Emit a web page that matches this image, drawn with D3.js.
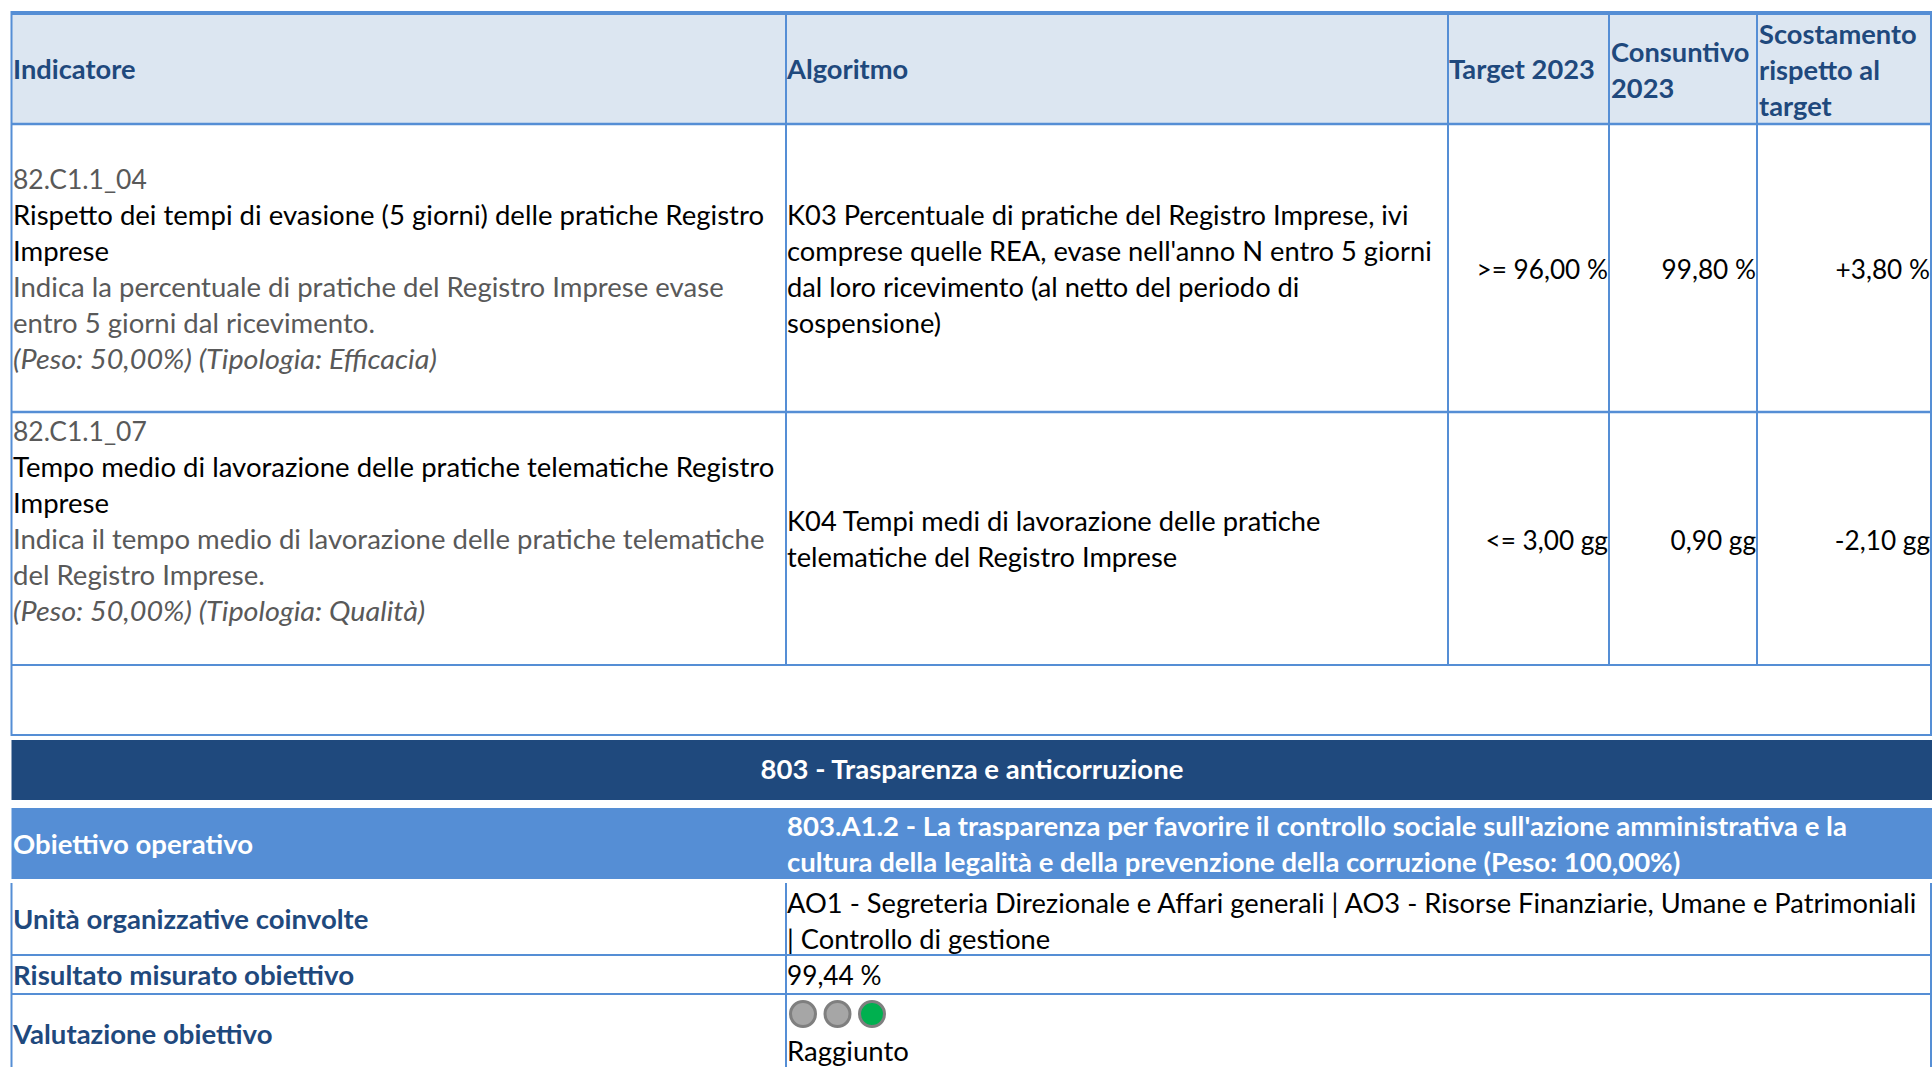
<!DOCTYPE html>
<html>
<head>
<meta charset="utf-8">
<script src="https://cdn.jsdelivr.net/npm/d3@7"></script>
<style>
html, body { margin: 0; padding: 0; background: #fff; overflow: hidden; }
svg { display: block; }
text { font-family: Lato, sans-serif; font-size: 27px; white-space: pre; }
</style>
</head>
<body>
<div id="chart"></div>
<script>
const headers = [["Indicatore"], ["Algoritmo"], ["Target 2023"], ["Consuntivo", "2023"], ["Scostamento", "rispetto al", "target"]];
const indicatorCodes = ["82.C1.1_04", "82.C1.1_07"];
const indicatorNames = [
    ["Rispetto dei tempi di evasione (5 giorni) delle pratiche Registro", "Imprese"],
    ["Tempo medio di lavorazione delle pratiche telematiche Registro", "Imprese"]
];
const indicatorNotes = [
    ["Indica la percentuale di pratiche del Registro Imprese evase", "entro 5 giorni dal ricevimento."],
    ["Indica il tempo medio di lavorazione delle pratiche telematiche", "del Registro Imprese."]
];
const indicatorWeights = ["(Peso: 50,00%) (Tipologia: Efficacia)", "(Peso: 50,00%) (Tipologia: Qualità)"];
const algorithms = [
    ["K03 Percentuale di pratiche del Registro Imprese, ivi", "comprese quelle REA, evase nell'anno N entro 5 giorni", "dal loro ricevimento (al netto del periodo di", "sospensione)"],
    ["K04 Tempi medi di lavorazione delle pratiche", "telematiche del Registro Imprese"]
];
const targets = [">= 96,00 %", "<= 3,00 gg"];
const actuals = ["99,80 %", "0,90 gg"];
const deviations = ["+3,80 %", "-2,10 gg"];
const sectionTitle = "803 - Trasparenza e anticorruzione";
const objectiveLabels = ["Unità organizzative coinvolte", "Risultato misurato obiettivo", "Valutazione obiettivo"];
const objectiveTitle = ["803.A1.2 - La trasparenza per favorire il controllo sociale sull'azione amministrativa e la", "cultura della legalità e della prevenzione della corruzione (Peso: 100,00%)"];
const units = ["AO1 - Segreteria Direzionale e Affari generali | AO3 - Risorse Finanziarie, Umane e Patrimoniali", "| Controllo di gestione"];
const measuredResult = "99,44 %";
const lights = ["off", "off", "on"];
const evaluation = "Raggiunto";

const width = 1932, height = 1067;
const blue = "#558ed5", navy = "#1f497d", pale = "#dce6f1", grey = "#595959";
const lineStep = 36;

const x = d3.scaleOrdinal()
    .domain(["left", "indicator", "algorithm", "target", "actual", "right"])
    .range([11.5, 786, 1448, 1609, 1757, 1931]);

const svg = d3.select("#chart").append("svg")
    .attr("width", width)
    .attr("height", height);

const defs = svg.append("defs");
defs.append("filter").attr("id", "soft")
    .append("feGaussianBlur").attr("stdDeviation", 0.7);

function rect(x0, y0, w, h, fill) {
    svg.append("rect").attr("x", x0).attr("y", y0).attr("width", w).attr("height", h).attr("fill", fill);
}

function rules(list) {
    svg.selectAll(null).data(list).enter().append("line")
        .attr("x1", d => d[0]).attr("y1", d => d[1])
        .attr("x2", d => d[2]).attr("y2", d => d[3])
        .attr("stroke", blue)
        .attr("stroke-width", d => d[4] || 2);
}

// squeezes/stretches Lato to the Calibri widths of the original
function write(lines, tx, firstBaseline, opts) {
    opts = opts || {};
    const factor = opts.factor || (opts.italic ? 1.065 : 1.02);
    const sel = svg.selectAll(null).data(lines).enter().append("text")
        .attr("y", (d, i) => firstBaseline + 1 + i * lineStep)
        .attr("fill", opts.fill || "#000")
        .attr("font-weight", opts.bold ? 700 : 400)
        .attr("font-style", opts.italic ? "italic" : "normal")
        .text(d => d);
    sel.each(function() {
        const w = this.getComputedTextLength() * factor;
        const start = opts.anchor === "end" ? tx - w : opts.anchor === "middle" ? tx - w / 2 : tx;
        d3.select(this).attr("x", start).attr("textLength", w).attr("lengthAdjust", "spacingAndGlyphs");
    });
}

rect(x("left"), 13, width - x("left"), 111, pale);
rect(x("left"), 740, width - x("left"), 60, navy);
rect(x("left"), 808, width - x("left"), 71, blue);

const yBottom = height;
const columnLines = ["indicator", "algorithm", "target", "actual"];
rules([
    [x("left"), 13, width, 13, 4],
    [x("left"), 124, width, 124, 2.5],
    [x("left"), 412, width, 412, 2.5],
    [x("left"), 665, width, 665, 2],
    [x("left"), 735, width, 735, 2],
    [x("left"), 955, width, 955, 2],
    [x("left"), 994, width, 994, 2],
    [x("left"), 11, x("left"), 736],
    [x("right"), 11, x("right"), 736],
    [x("left"), 883, x("left"), yBottom],
    [x("right"), 883, x("right"), yBottom],
    [x("indicator"), 883, x("indicator"), yBottom]
].concat(columnLines.map(c => [x(c), 11, x(c), 665])));

// header row
const headerX = [13, 787, 1449, 1611, 1759];
const headerBaseline = [78, 78, 78, 61, 43];
headers.forEach((h, i) => write(h, headerX[i], headerBaseline[i], {fill: navy, bold: true, factor: 1.01}));

// indicator rows
const rowBaseline = [188, 440];
const algorithmBaseline = [224, 530];
const valueBaseline = [278, 549];
indicatorCodes.forEach((code, i) => {
    const y0 = rowBaseline[i];
    write([code], 13, y0, {fill: grey, factor: 0.98});
    write(indicatorNames[i], 13, y0 + lineStep);
    write(indicatorNotes[i], 13, y0 + 3 * lineStep, {fill: grey});
    write([indicatorWeights[i]], 13, y0 + 5 * lineStep, {fill: grey, italic: true});
    write(algorithms[i], 787, algorithmBaseline[i], {factor: 1.01});
    write([targets[i]], x("target") - 1, valueBaseline[i], {anchor: "end", factor: 0.97});
    write([actuals[i]], x("actual") - 1, valueBaseline[i], {anchor: "end", factor: 0.97});
    write([deviations[i]], x("right") - 1, valueBaseline[i], {anchor: "end", factor: 0.97});
});

// section bands
write([sectionTitle], 972, 778, {fill: "#fff", bold: true, anchor: "middle"});
write(["Obiettivo operativo"], 13, 853, {fill: "#fff", bold: true});
write(objectiveTitle, 787, 835, {fill: "#fff", bold: true});

// objective details
write([objectiveLabels[0]], 13, 928, {fill: navy, bold: true});
write(units, 787, 912, {factor: 1.011});
write([objectiveLabels[1]], 13, 984, {fill: navy, bold: true, factor: 1.025});
write([measuredResult], 787, 984, {factor: 0.97});
write([objectiveLabels[2]], 13, 1043, {fill: navy, bold: true});
write([evaluation], 787, 1060);

const lightX = d3.scalePoint().domain(d3.range(lights.length)).range([803, 872]);
const lightFill = d3.scaleOrdinal().domain(["off", "on"]).range(["#a6a6a6", "#00b050"]);
svg.selectAll(null).data(lights).enter().append("circle")
    .attr("cx", (d, i) => lightX(i))
    .attr("cy", 1014)
    .attr("r", 12.5)
    .attr("fill", d => lightFill(d))
    .attr("stroke", "#7f7f7f")
    .attr("stroke-width", 3)
    .attr("filter", "url(#soft)");
</script>
</body>
</html>
